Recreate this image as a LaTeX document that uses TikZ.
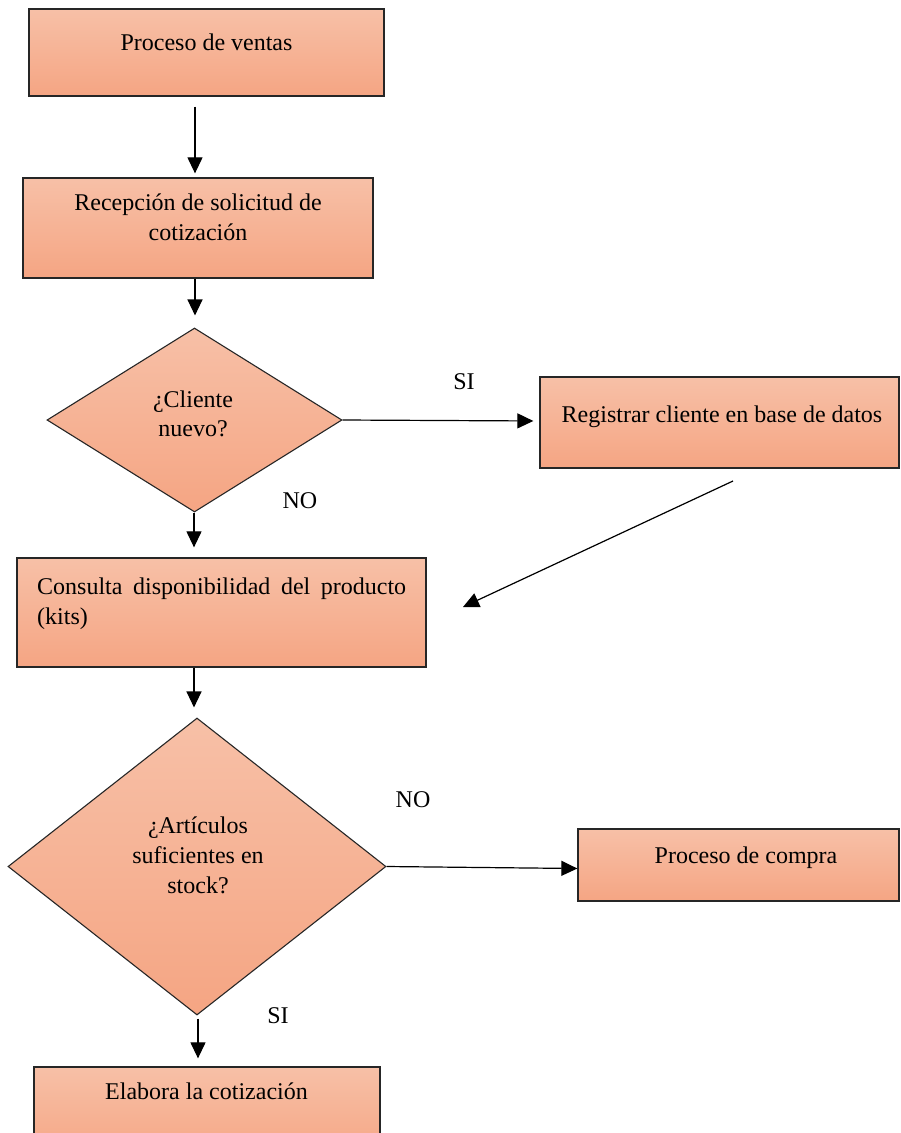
\documentclass[tikz,border=0pt]{standalone}
\usepackage{fontspec}
\setmainfont{Liberation Serif}
\usetikzlibrary{arrows.meta,shapes.geometric}
\definecolor{fillTop}{RGB}{247,192,167}
\definecolor{fillBot}{RGB}{245,165,131}
\tikzset{
  box/.style={draw=black!85, line width=1.3pt, rectangle, inner sep=0pt,
    top color=fillTop, bottom color=fillBot},
  decision/.style={draw=black!85, line width=1.1pt, diamond, inner sep=0pt,
    top color=fillTop, bottom color=fillBot},
  txt/.style={inner sep=0pt, anchor=base,
    font=\fontsize{24}{30}\selectfont},
  arr/.style={line width=1.2pt, -{Triangle[length=16pt,width=15pt]}},
}
\begin{document}
\begin{tikzpicture}[x=1pt,y=-1pt]
\useasboundingbox (0,0) rectangle (900,1133);
\clip (0,0) rectangle (900,1133);

% shapes
\node[box, minimum width=355pt, minimum height=87pt]  (b1) at (206.5,52.5) {};
\node[box, minimum width=350pt, minimum height=100pt] (b2) at (198,228) {};
\node[decision, minimum width=295pt, minimum height=184pt] (d1) at (194.5,420) {};
\node[box, minimum width=359pt, minimum height=91pt]  (b3) at (719.5,422.5) {};
\node[box, minimum width=409pt, minimum height=109pt] (b4) at (221.5,612.5) {};
\node[decision, minimum width=378pt, minimum height=297pt] (d2) at (197,866.5) {};
\node[box, minimum width=321pt, minimum height=72pt]  (b5) at (738.5,865) {};
\node[box, minimum width=346pt, minimum height=93pt]  (b6) at (207,1113.5) {};

% texts, one node per printed line
\node[txt] (t1)  at (206.5,50) {Proceso de ventas};
\node[txt] (t2a) at (198,210) {Recepción de solicitud de};
\node[txt] (t2b) at (198,240) {cotización};
\node[txt] (t3a) at (193,407) {¿Cliente};
\node[txt] (t3b) at (193,436) {nuevo?};
\node[txt] (t4)  at (722,422) {Registrar cliente en base de datos};
\node[txt, anchor=base west] (t5a) at (37,594) {\makebox[369pt][s]{Consulta disponibilidad del producto}};
\node[txt, anchor=base west] (t5b) at (37,624) {(kits)};
\node[txt] (t6a) at (198,833) {¿Artículos};
\node[txt] (t6b) at (198,863) {suficientes en};
\node[txt] (t6c) at (198,893) {stock?};
\node[txt] (t7)  at (746,863) {Proceso de compra};
\node[txt] (t8)  at (206.5,1099) {Elabora la cotización};

% branch labels
\node[txt] (si1) at (464,389) {SI};
\node[txt] (no1) at (300,508) {NO};
\node[txt] (no2) at (413,807) {NO};
\node[txt] (si2) at (278,1023) {SI};

% columns of the vertical connectors
\coordinate (xa) at (195,0);
\coordinate (xb) at (194,0);
\coordinate (xc) at (198,0);
% free ends of the slanted connector
\coordinate (r1) at (733,481);
\coordinate (r2) at (463,607);

% connectors
\draw[arr, shorten <=10pt, shorten >=4pt] (b1.south -| xa) -- (b2.north -| xa);
\draw[arr, shorten >=12pt] (b2.south -| xa) -- (d1.north -| xa);
\draw[arr, shorten >=6pt] (d1.east) -- ([yshift=-1pt]b3.west |- d1.east);
\draw[arr] (r1) -- (r2);
\draw[arr, shorten >=10pt] (d1.south -| xb) -- (b4.north -| xb);
\draw[arr, shorten >=10pt] (b4.south -| xb) -- (d2.north -| xb);
\draw[arr] (d2.east) -- ([yshift=-2pt]b5.west |- d2.east);
\draw[arr, shorten <=3pt, shorten >=8pt] (d2.south -| xc) -- (b6.north -| xc);
\end{tikzpicture}
\end{document}
